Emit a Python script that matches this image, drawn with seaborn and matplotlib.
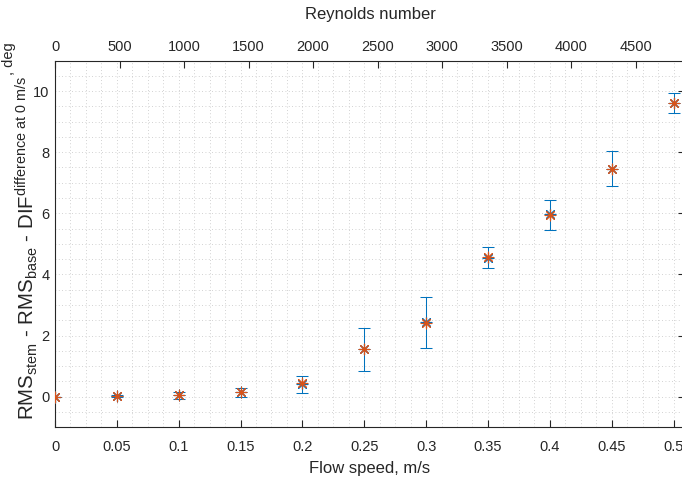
import matplotlib
matplotlib.use("Agg")
import matplotlib.pyplot as plt
from matplotlib.ticker import MultipleLocator, FixedLocator
import numpy as np
import pandas as pd
import seaborn as sns

# ---------------- data ----------------
flow_speed = [0.0, 0.05, 0.10, 0.15, 0.20, 0.25, 0.30, 0.35, 0.40, 0.45, 0.50]
rms_mean_blue = [0.0, 0.02, 0.05, 0.17, 0.43, 1.56, 2.43, 4.55, 5.97, 7.45, 9.62]
rms_err_low = [0.0, -0.01, -0.07, -0.01, 0.13, 0.84, 1.59, 4.22, 5.47, 6.88, 9.28]
rms_err_high = [0.0, 0.05, 0.17, 0.29, 0.68, 2.24, 3.25, 4.90, 6.45, 8.05, 9.94]
rms_mean_orange = [0.0, 0.03, 0.06, 0.15, 0.44, 1.56, 2.42, 4.56, 5.96, 7.44, 9.61]
x_ticks = [0, 0.05, 0.1, 0.15, 0.2, 0.25, 0.3, 0.35, 0.4, 0.45, 0.5]
x_tick_labels = ["0", "0.05", "0.1", "0.15", "0.2", "0.25", "0.3", "0.35", "0.4", "0.45", "0.5"]
y_ticks = [0, 2, 4, 6, 8, 10]
re_ticks = [0, 500, 1000, 1500, 2000, 2500, 3000, 3500, 4000, 4500]
reynolds_per_speed = 9584.0  # Re per m/s

BLUE = "#0072BD"
ORANGE = "#D95319"
TXT = "#262626"

sns.set_theme(style="white")
plt.rcParams["font.family"] = ["Liberation Sans", "DejaVu Sans"]
plt.rcParams["mathtext.fontset"] = "custom"
plt.rcParams["mathtext.rm"] = "Liberation Sans"
plt.rcParams["mathtext.it"] = "Liberation Sans:italic"
plt.rcParams["mathtext.bf"] = "Liberation Sans:bold"

fig = plt.figure(figsize=(6.82, 4.78), dpi=100)
W, H = 682.0, 478.0
left_px, right_px, top_px, bot_px = 55.0, 685.0, 60.5, 427.3
ax = fig.add_axes([left_px / W, (H - bot_px) / H, (right_px - left_px) / W, (bot_px - top_px) / H])

x_max = (right_px - left_px) / 1237.0
ax.set_xlim(0, x_max)
ax.set_ylim(-1, 11)

# error bars (blue)
x_arr = np.array(flow_speed)
yb = np.array(rms_mean_blue)
yerr = [yb - np.array(rms_err_low), np.array(rms_err_high) - yb]
ax.errorbar(x_arr, yb, yerr=yerr, fmt="none", ecolor=BLUE, elinewidth=0.75,
            capsize=4.2, capthick=0.75, zorder=3)

df = pd.DataFrame({"speed": flow_speed, "blue": rms_mean_blue, "orange": rms_mean_orange})
sns.scatterplot(data=df, x="speed", y="blue", marker=(8, 2, 0), s=60, color=BLUE,
                linewidth=0.8, ax=ax, zorder=4, legend=False)
sns.scatterplot(data=df, x="speed", y="orange", marker=(8, 2, 0), s=60, color=ORANGE,
                linewidth=0.8, ax=ax, zorder=5, legend=False)

# ticks and grid
ax.xaxis.set_major_locator(FixedLocator(x_ticks))
ax.set_xticklabels(x_tick_labels)
ax.yaxis.set_major_locator(FixedLocator(y_ticks))
ax.xaxis.set_minor_locator(MultipleLocator(0.0125))
ax.yaxis.set_minor_locator(MultipleLocator(0.5))
ax.grid(True, which="both", linestyle=(0, (1.0, 3.0)), color="#c4c4c4", linewidth=0.6)
ax.set_axisbelow(True)
ax.tick_params(axis="both", which="major", direction="in", length=4.8, width=0.8,
               color=TXT, labelcolor=TXT, labelsize=10.5, top=True, right=True,
               labeltop=False, labelright=False)
ax.tick_params(axis="x", which="major", pad=9)
ax.tick_params(axis="y", which="major", pad=4)
ax.tick_params(which="minor", length=0)
for sp in ax.spines.values():
    sp.set_color(TXT)
    sp.set_linewidth(0.8)

ax.set_xlabel("Flow speed, m/s", fontsize=12, color=TXT, labelpad=5)
ax.set_ylabel(r"RMS$_{\mathrm{stem}}$ - RMS$_{\mathrm{base}}$ - DIF$^{\mathrm{difference\ at\ 0\ m/s}}$",
              fontsize=14.8, color=TXT)
ax.yaxis.set_label_coords(-0.0245, 0.488)

# secondary (top) axis: Reynolds number
ax2 = ax.twiny()
ax2.set_xlim(0, x_max * reynolds_per_speed)
ax2.xaxis.set_major_locator(FixedLocator(re_ticks))
ax2.grid(False)
ax2.tick_params(axis="x", which="major", direction="in", length=4.8, width=0.8,
                color=TXT, labelcolor=TXT, labelsize=10.5, pad=5, top=True, bottom=False)
ax2.tick_params(axis="y", left=False, right=False, labelleft=False, labelright=False)
for sp in ax2.spines.values():
    sp.set_visible(False)
ax2.set_xlabel("Reynolds number", fontsize=12, color=TXT, labelpad=15)

# raised ", deg" unit following the y label (as in the reference)
fig.canvas.draw()
renderer = fig.canvas.get_renderer()
bb = ax.yaxis.label.get_window_extent(renderer)
fig.text(13.0 / W, (bb.y1 + 1.0) / H, ", deg", rotation=90, rotation_mode="anchor",
         ha="left", va="baseline", fontsize=10.5, color=TXT)

fig.savefig("out.png", dpi=100)
